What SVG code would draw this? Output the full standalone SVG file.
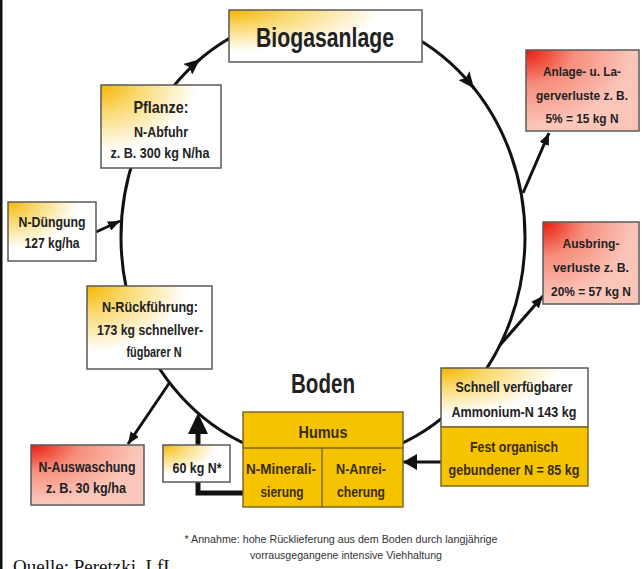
<svg xmlns="http://www.w3.org/2000/svg" width="642" height="569" viewBox="0 0 642 569">
<defs>
<radialGradient id="gY" cx="0" cy="0" r="0.8" fx="0" fy="0">
<stop offset="0" stop-color="#F3B500"/>
<stop offset="0.4" stop-color="#FAD970"/>
<stop offset="1" stop-color="#FFFFFF"/>
</radialGradient>
<radialGradient id="gR" cx="0" cy="0" r="0.95" fx="0" fy="0">
<stop offset="0" stop-color="#EC1A0C"/>
<stop offset="0.45" stop-color="#F68E7C"/>
<stop offset="1" stop-color="#FBC6BA"/>
</radialGradient>
<marker id="arr" markerUnits="userSpaceOnUse" markerWidth="16" markerHeight="14" refX="16" refY="7" orient="auto" viewBox="0 0 16 14">
<path d="M0,0 L16,7 L0,14 L3,7 z" fill="#111"/>
</marker>
<marker id="arrS" markerUnits="userSpaceOnUse" markerWidth="12" markerHeight="10" refX="12" refY="5" orient="auto" viewBox="0 0 12 10">
<path d="M0,0 L12,5 L0,10 z" fill="#111"/>
</marker>
<marker id="arrM" markerUnits="userSpaceOnUse" markerWidth="14" markerHeight="16" refX="14" refY="8" orient="auto" viewBox="0 0 14 16">
<path d="M0,0 L14,8 L0,16 z" fill="#111"/>
</marker>
</defs>
<style>
.box{stroke:#5a5a5a;stroke-width:1.5}
.gold{fill:#F6C300;stroke:#7d6a20;stroke-width:1.5}
.t{font-family:"Liberation Sans",Arial,sans-serif;font-weight:bold;fill:#222;text-anchor:middle}
.tg{fill:#3a2c00}
.ln{fill:none;stroke:#111;stroke-width:3}
.fn{font-family:"Liberation Sans",Arial,sans-serif;font-size:11px;fill:#333;text-anchor:middle}
</style>
<rect x="0" y="0" width="642" height="569" fill="#fff"/>
<rect x="0" y="0" width="2.5" height="569" fill="#111"/>

<g id="connectors">
<ellipse class="ln" cx="323" cy="237" rx="202" ry="224"/>
<path class="ln" d="M192.4,65.5 L200,59.3" marker-end="url(#arr)"/>
<path class="ln" d="M467.7,80.4 L474,88.2" marker-end="url(#arr)"/>
<path class="ln" d="M96,232 L120,221" marker-end="url(#arrS)"/>
<path class="ln" d="M523,193 L549,133" marker-end="url(#arrS)"/>
<path class="ln" d="M500,345 L543,296" marker-end="url(#arrS)"/>
<path class="ln" d="M170,382 L128,444" marker-end="url(#arrS)"/>
<path class="ln" d="M441,462 L403,462" stroke-width="4" marker-end="url(#arrM)"/>
<path fill="none" stroke="#111" stroke-width="5" d="M243,493 H198 V482"/>
<path fill="none" stroke="#111" stroke-width="5" d="M198,446 V430"/>
<polygon points="198,413 208,434 188,434" fill="#111"/>
</g>

<g id="biogasanlage">
<rect class="box" x="229" y="10" width="193" height="52" fill="url(#gY)"/>
<text class="t" x="325" y="47" font-size="28" textLength="138" lengthAdjust="spacingAndGlyphs">Biogasanlage</text>
</g>

<g id="pflanze">
<rect class="box" x="101" y="85" width="120" height="83" fill="url(#gY)"/>
<text class="t" x="161" y="113" font-size="17" textLength="55" lengthAdjust="spacingAndGlyphs">Pflanze:</text>
<text class="t" x="161" y="137" font-size="14" textLength="54" lengthAdjust="spacingAndGlyphs">N-Abfuhr</text>
<text class="t" x="160" y="158" font-size="14" textLength="99" lengthAdjust="spacingAndGlyphs">z. B. 300 kg N/ha</text>
</g>

<g id="n-duengung">
<rect class="box" x="8" y="202" width="88" height="59" fill="url(#gY)"/>
<text class="t" x="52" y="227" font-size="14" textLength="67" lengthAdjust="spacingAndGlyphs">N-Düngung</text>
<text class="t" x="52" y="248" font-size="14" textLength="55" lengthAdjust="spacingAndGlyphs">127 kg/ha</text>
</g>

<g id="n-rueckfuehrung">
<rect class="box" x="87" y="286" width="125" height="83" fill="url(#gY)"/>
<text class="t" x="150" y="312" font-size="15" textLength="96" lengthAdjust="spacingAndGlyphs">N-Rückführung:</text>
<text class="t" x="150" y="335" font-size="15" textLength="106" lengthAdjust="spacingAndGlyphs">173 kg schnellver-</text>
<text class="t" x="154" y="357" font-size="15" textLength="55" lengthAdjust="spacingAndGlyphs">fügbarer N</text>
</g>

<g id="anlageverluste">
<rect class="box" x="526" y="50" width="113" height="81" fill="url(#gR)"/>
<text class="t" x="582" y="76" font-size="13" textLength="78" lengthAdjust="spacingAndGlyphs">Anlage- u. La-</text>
<text class="t" x="582" y="100" font-size="13" textLength="92" lengthAdjust="spacingAndGlyphs">gerverluste z. B.</text>
<text class="t" x="582" y="123" font-size="13" textLength="73" lengthAdjust="spacingAndGlyphs">5% = 15 kg N</text>
</g>

<g id="ausbringverluste">
<rect class="box" x="543" y="222" width="96" height="82" fill="url(#gR)"/>
<text class="t" x="591" y="248" font-size="13" textLength="57" lengthAdjust="spacingAndGlyphs">Ausbring-</text>
<text class="t" x="591" y="272" font-size="13" textLength="76" lengthAdjust="spacingAndGlyphs">verluste z. B.</text>
<text class="t" x="591" y="296" font-size="13" textLength="80" lengthAdjust="spacingAndGlyphs">20% = 57 kg N</text>
</g>

<g id="boden">
<text class="t" x="323" y="393" font-size="27" textLength="64" lengthAdjust="spacingAndGlyphs">Boden</text>
</g>

<g id="schnell-verfuegbar">
<rect class="box" x="441" y="368" width="147" height="59" fill="url(#gY)"/>
<text class="t" x="514" y="392" font-size="15" textLength="117" lengthAdjust="spacingAndGlyphs">Schnell verfügbarer</text>
<text class="t" x="514" y="417" font-size="15" textLength="125" lengthAdjust="spacingAndGlyphs">Ammonium-N 143 kg</text>
</g>

<g id="fest-organisch">
<rect class="gold" x="441" y="427" width="147" height="59"/>
<text class="t tg" x="514" y="452" font-size="15" textLength="88" lengthAdjust="spacingAndGlyphs">Fest organisch</text>
<text class="t tg" x="514" y="475" font-size="15" textLength="131" lengthAdjust="spacingAndGlyphs">gebundener N = 85 kg</text>
</g>

<g id="humus">
<rect class="gold" x="243" y="412" width="160" height="95"/>
<line x1="243" y1="448" x2="403" y2="448" stroke="#7d6a20" stroke-width="1.5"/>
<line x1="322" y1="448" x2="322" y2="507" stroke="#7d6a20" stroke-width="1.5"/>
<text class="t tg" x="323" y="438" font-size="16" textLength="49" lengthAdjust="spacingAndGlyphs">Humus</text>
<text class="t tg" x="281" y="474" font-size="15" textLength="70" lengthAdjust="spacingAndGlyphs">N-Minerali-</text>
<text class="t tg" x="282" y="497" font-size="15" textLength="43" lengthAdjust="spacingAndGlyphs">sierung</text>
<text class="t tg" x="361" y="474" font-size="15" textLength="50" lengthAdjust="spacingAndGlyphs">N-Anrei-</text>
<text class="t tg" x="361" y="497" font-size="15" textLength="48" lengthAdjust="spacingAndGlyphs">cherung</text>
</g>

<g id="n60">
<rect class="box" x="163" y="445" width="67" height="37" fill="url(#gY)"/>
<text class="t" x="197" y="473" font-size="14" textLength="49" lengthAdjust="spacingAndGlyphs">60 kg N*</text>
</g>

<g id="n-auswaschung">
<rect class="box" x="31" y="445" width="113" height="60" fill="url(#gR)"/>
<text class="t" x="87" y="472" font-size="15" textLength="97" lengthAdjust="spacingAndGlyphs">N-Auswaschung</text>
<text class="t" x="86" y="493" font-size="15" textLength="80" lengthAdjust="spacingAndGlyphs">z. B. 30 kg/ha</text>
</g>

<g id="footnote">
<text class="fn" x="341" y="543" textLength="313" lengthAdjust="spacingAndGlyphs">* Annahme: hohe Rücklieferung aus dem Boden durch langjährige</text>
<text class="fn" x="346" y="559" textLength="192" lengthAdjust="spacingAndGlyphs">vorrausgegangene intensive Viehhaltung</text>
</g>

<g id="quelle">
<text x="13" y="573" font-family="'Liberation Serif','Times New Roman',serif" font-size="19" fill="#111">Quelle: Peretzki, LfL</text>
</g>
</svg>
